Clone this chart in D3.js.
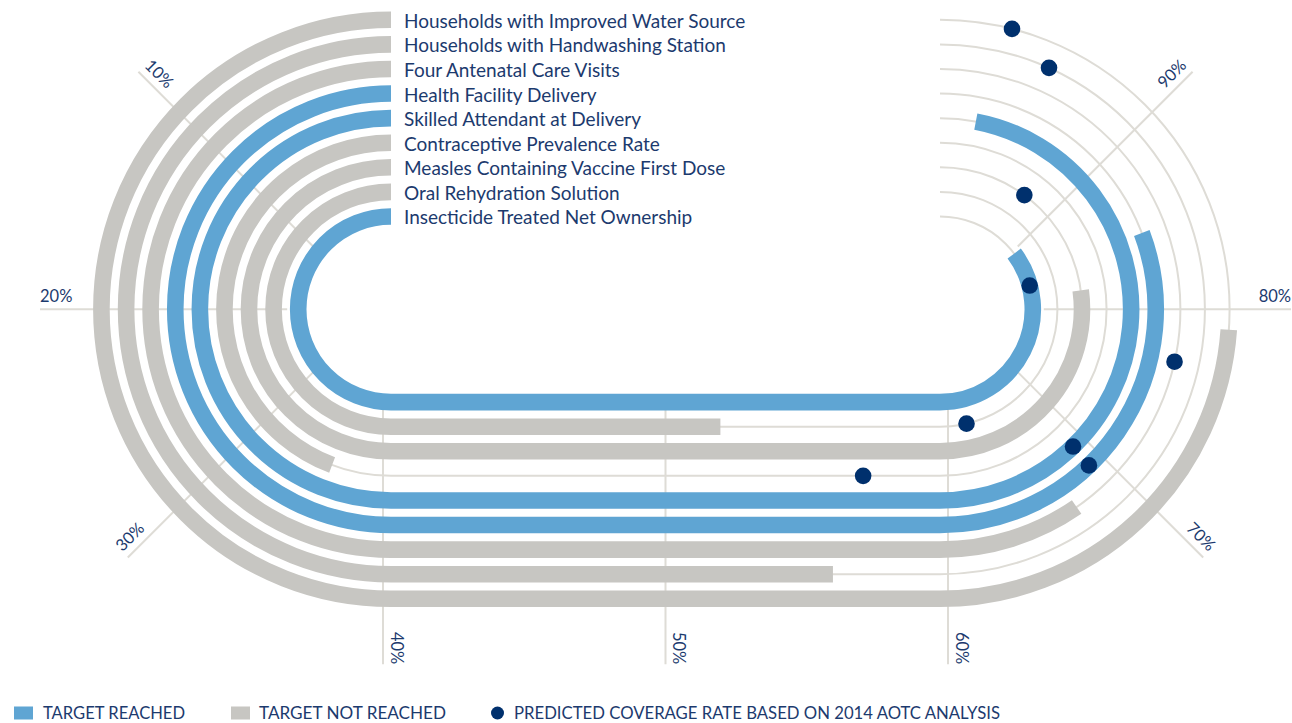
<!DOCTYPE html>
<html><head><meta charset="utf-8">
<script src="https://cdn.jsdelivr.net/npm/d3@7"></script>
<style>
html,body{margin:0;padding:0;background:#fff;}
svg{display:block;}
text{font-family:Lato,"Open Sans",sans-serif;}
</style></head><body>
<svg id="chart" width="1292" height="723"></svg>
<script>
// ---------------- data ----------------
const categories = [
  "Households with Improved Water Source",
  "Households with Handwashing Station",
  "Four Antenatal Care Visits",
  "Health Facility Delivery",
  "Skilled Attendant at Delivery",
  "Contraceptive Prevalence Rate",
  "Measles Containing Vaccine First Dose",
  "Oral Rehydration Solution",
  "Insecticide Treated Net Ownership"
];
const targetReached = [false, false, false, true, true, false, false, false, true];
const coverage  = [79.1, 56.1, 67.7, 84.6, 97.6, 35.4, 81.7, 52.0, 88.2];
const predicted = [96.8, 94.6, 77.2, 69.7, 69.8, 57.2, 91.9, 62.9, 83.3];
const tickValues = [10, 20, 30, 40, 50, 60, 70, 80, 90];
const tickLabels = ["10%", "20%", "30%", "40%", "50%", "60%", "70%", "80%", "90%"];
const legendLabels = ["TARGET REACHED", "TARGET NOT REACHED", "PREDICTED COVERAGE RATE BASED ON 2014 AOTC ANALYSIS"];

// ---------------- layout ----------------
const C = {
  blue: "#5fa5d3", gray: "#c7c6c2", grid: "#dedcd6", dot: "#00306d", text: "#1c3a6e"
};
const Lx = 391, Rx = 940, cy = 309.3;
const barW = 16.6;

const svg = d3.select("#chart");

const rScale = d3.scalePoint().domain(categories).range([289.5, 92.8]);
const rInner = rScale(categories[categories.length - 1]);

const leftAngle  = d3.scaleLinear().domain([0, 40]).range([-Math.PI / 2, -3 * Math.PI / 2]);
const straightX  = d3.scaleLinear().domain([40, 60]).range([Lx, Rx]);
const rightAngle = d3.scaleLinear().domain([60, 100]).range([Math.PI / 2, -Math.PI / 2]);

function trackPath(r, v) {
  const p = d3.path();
  p.moveTo(Lx, cy - r);
  p.arc(Lx, cy, r, -Math.PI / 2, leftAngle(Math.min(v, 40)), true);
  if (v > 40) p.lineTo(straightX(Math.min(v, 60)), cy + r);
  if (v > 60) p.arc(Rx, cy, r, Math.PI / 2, rightAngle(Math.min(v, 100)), true);
  return p.toString();
}
function pointAt(r, v) {
  if (v <= 40) { const a = leftAngle(v); return [Lx + r * Math.cos(a), cy + r * Math.sin(a)]; }
  if (v <= 60) return [straightX(v), cy + r];
  const a = rightAngle(v); return [Rx + r * Math.cos(a), cy + r * Math.sin(a)];
}

// ---------------- tick lines ----------------
const ticks = tickValues.map((t, i) => {
  let a, ax;
  if (t < 40) { a = leftAngle(t); ax = Lx - 15; }
  else if (t === 40) { a = leftAngle(t); ax = Lx - 8; }
  else if (t < 60) { a = Math.PI / 2; ax = straightX(t); }
  else if (t === 60) { a = rightAngle(t); ax = Rx + 8; }
  else { a = rightAngle(t); ax = Rx + 15; }
  const dx = Math.cos(a), dy = Math.sin(a);
  const outer = dy > 0.9 ? 355 : (dy > 0.1 ? 351 : 336);
  const inner = rInner - 4;
  let deg = a * 180 / Math.PI;
  while (deg > 180) deg -= 360;
  while (deg <= -180) deg += 360;
  let rot, anchor;
  if (deg > 90 || deg <= -90) { rot = deg - 180; anchor = "start"; } else { rot = deg; anchor = "end"; }
  while (rot <= -180) rot += 360;
  return {
    label: tickLabels[i],
    x1: ax + inner * dx, y1: cy + inner * dy,
    x2: ax + outer * dx, y2: cy + outer * dy,
    rot, anchor
  };
});

const gTicks = svg.append("g");
gTicks.selectAll("line").data(ticks).join("line")
  .attr("x1", d => d.x1).attr("y1", d => d.y1)
  .attr("x2", d => d.x2).attr("y2", d => d.y2)
  .attr("stroke", C.grid).attr("stroke-width", 2);
gTicks.selectAll("text").data(ticks).join("text")
  .attr("transform", d => `translate(${d.x2},${d.y2}) rotate(${d.rot})`)
  .attr("text-anchor", d => d.anchor)
  .attr("dy", -7.5)
  .attr("font-size", 16.5)
  .attr("fill", C.text)
  .text(d => d.label);

// ---------------- tracks ----------------
const gTracks = svg.append("g");
gTracks.selectAll("path.bg").data(categories).join("path")
  .attr("class", "bg")
  .attr("d", c => trackPath(rScale(c), 100))
  .attr("fill", "none").attr("stroke", C.grid).attr("stroke-width", 2);

gTracks.selectAll("path.bar").data(categories).join("path")
  .attr("class", "bar")
  .attr("d", (c, i) => trackPath(rScale(c), coverage[i]))
  .attr("fill", "none")
  .attr("stroke", (c, i) => targetReached[i] ? C.blue : C.gray)
  .attr("stroke-width", barW)
  .attr("stroke-linecap", "butt");

gTracks.selectAll("circle").data(categories).join("circle")
  .attr("cx", (c, i) => pointAt(rScale(c), predicted[i])[0])
  .attr("cy", (c, i) => pointAt(rScale(c), predicted[i])[1])
  .attr("r", 8.3)
  .attr("fill", C.dot);

// ---------------- category labels ----------------
svg.append("g").selectAll("text").data(categories).join("text")
  .attr("x", Lx + 13)
  .attr("y", c => cy - rScale(c))
  .attr("dy", "0.42em")
  .attr("font-size", 19)
  .attr("fill", C.text)
  .text(c => c);

// ---------------- legend ----------------
const gLeg = svg.append("g");
gLeg.append("rect").attr("x", 14).attr("y", 706.5).attr("width", 19).attr("height", 13).attr("fill", C.blue);
gLeg.append("rect").attr("x", 231).attr("y", 706.5).attr("width", 19).attr("height", 13).attr("fill", C.gray);
gLeg.append("circle").attr("cx", 497.5).attr("cy", 713).attr("r", 6.5).attr("fill", C.dot);
const legPos = [[43, 142], [259, 187], [514, 486]];
gLeg.selectAll("text").data(legendLabels).join("text")
  .attr("x", (d, i) => legPos[i][0])
  .attr("y", 719)
  .attr("font-size", 16.5)
  .attr("textLength", (d, i) => legPos[i][1])
  .attr("lengthAdjust", "spacingAndGlyphs")
  .attr("fill", C.text)
  .text(d => d);
</script>
</body></html>
